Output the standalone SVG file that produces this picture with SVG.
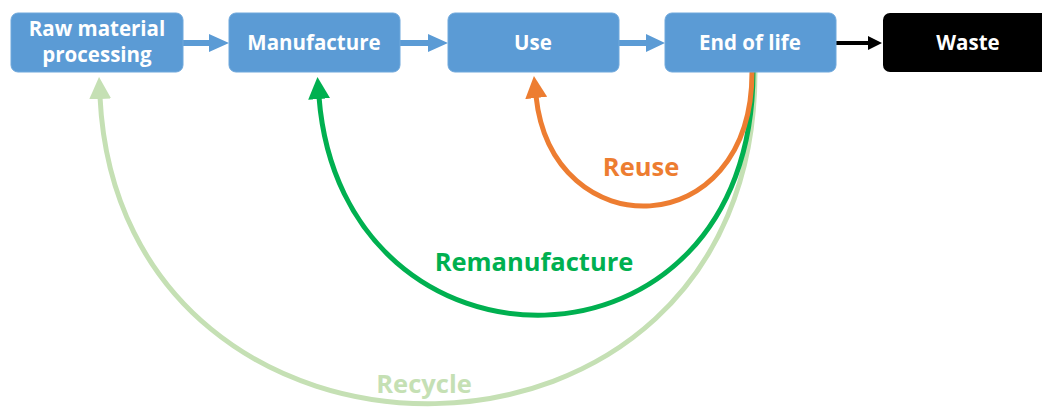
<svg xmlns="http://www.w3.org/2000/svg" width="1042" height="410" viewBox="0 0 1042 410">
<style>
.box{fill:#5b9bd5;stroke:#6fa8dc;stroke-width:1}
.bt{font-family:"Open Sans","Liberation Sans",sans-serif;font-weight:bold;font-size:20.5px;fill:#fff;text-anchor:middle}
.lbl{font-family:"Open Sans","Liberation Sans",sans-serif;font-weight:bold;font-size:25.5px;text-anchor:middle}
.curve{fill:none;stroke-width:5}
</style>
<defs>
<marker id="ah-o" markerUnits="userSpaceOnUse" markerWidth="22" markerHeight="22" refX="2" refY="11" orient="auto"><path d="M0,0 L22,11 L0,22 z" fill="#ed7d31"/></marker>
<marker id="ah-g" markerUnits="userSpaceOnUse" markerWidth="22" markerHeight="22" refX="2" refY="11" orient="auto"><path d="M0,0 L22,11 L0,22 z" fill="#00b050"/></marker>
<marker id="ah-l" markerUnits="userSpaceOnUse" markerWidth="22" markerHeight="22" refX="2" refY="11" orient="auto"><path d="M0,0 L22,11 L0,22 z" fill="#c5e0b4"/></marker>
</defs>
<g id="connectors">
<g fill="#5b9bd5">
<path d="M183,40 L209,40 L209,34 L229,43 L209,52 L209,46 L183,46 z"/>
<path d="M400,40 L428,40 L428,34 L448,43 L428,52 L428,46 L400,46 z"/>
<path d="M619,40 L646,40 L646,34 L665,43 L646,52 L646,46 L619,46 z"/>
</g>
<path d="M836,41 L868,41 L868,36 L882,43 L868,50 L868,45 L836,45 z" fill="#000"/>
<path class="curve" stroke="#c5e0b4" d="M755,72 C755,510 120,510 100,97" marker-end="url(#ah-l)"/>
<path class="curve" stroke="#00b050" d="M753,72 C753,392 342,392 319,97" marker-end="url(#ah-g)"/>
<path class="curve" stroke="#ed7d31" d="M752,72 C752,245 552,248 536,96" marker-end="url(#ah-o)"/>
</g>
<g id="raw"><rect class="box" x="11" y="13" width="172" height="59" rx="7"/><text class="bt" x="97" y="36">Raw material</text><text class="bt" x="97" y="62">processing</text></g>
<g id="manufacture"><rect class="box" x="229" y="13" width="171" height="59" rx="7"/><text class="bt" x="314" y="50">Manufacture</text></g>
<g id="use"><rect class="box" x="448" y="13" width="171" height="59" rx="7"/><text class="bt" x="533" y="50">Use</text></g>
<g id="eol"><rect class="box" x="665" y="13" width="171" height="59" rx="7"/><text class="bt" x="750" y="50">End of life</text></g>
<g id="waste"><rect x="883" y="13" width="171" height="59" rx="7" fill="#000"/><text class="bt" x="968" y="50">Waste</text></g>
<g id="labels">
<text class="lbl" x="641" y="176" fill="#ed7d31">Reuse</text>
<text class="lbl" x="534" y="271" fill="#00b050">Remanufacture</text>
<text class="lbl" x="424" y="393" fill="#c5e0b4">Recycle</text>
</g>
</svg>
